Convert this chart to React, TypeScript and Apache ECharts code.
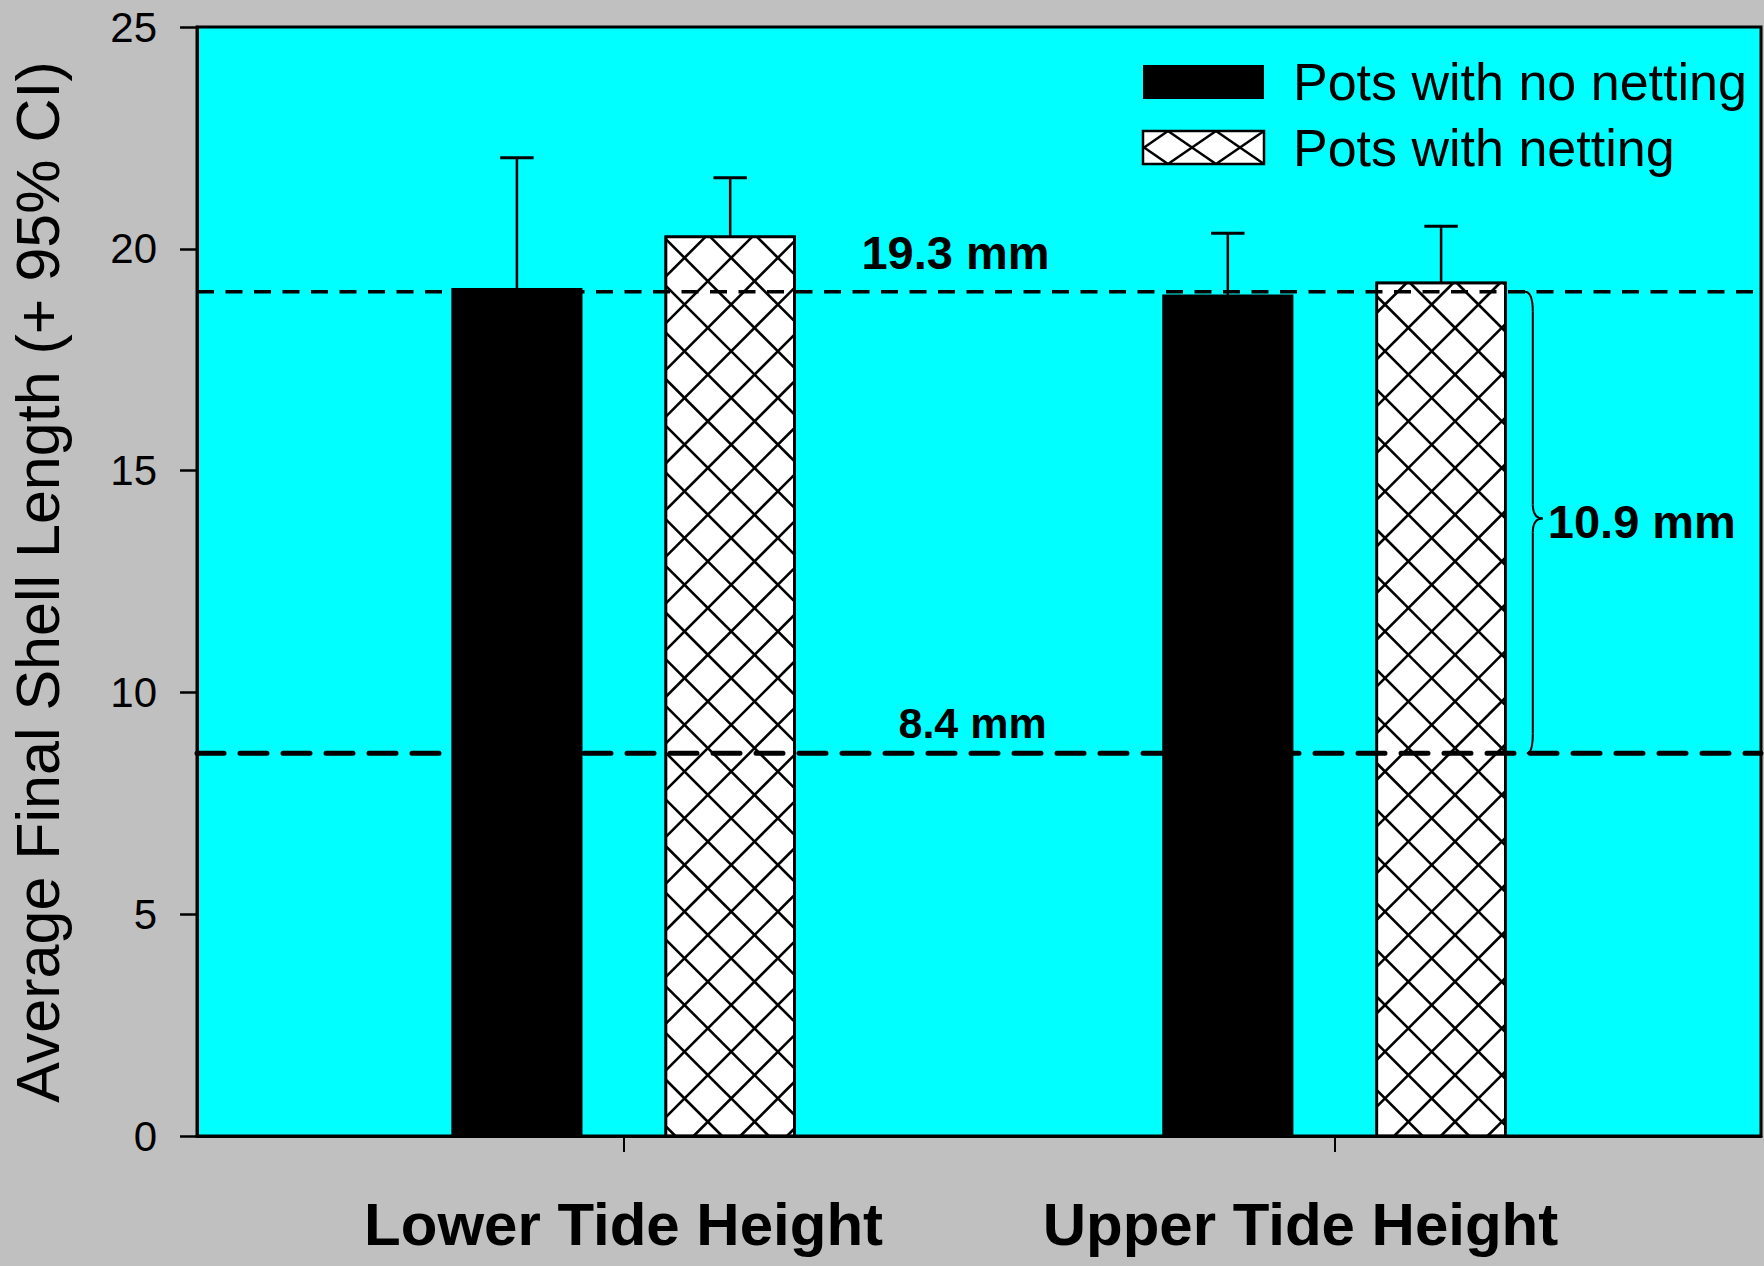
import React, { useEffect, useRef } from 'react';
import * as echarts from 'echarts';

// ---------- data ----------
const categories = ['Lower Tide Height', 'Upper Tide Height'];
const seriesNames = ['Pots with no netting', 'Pots with netting'];
const noNettingMean = [19.09, 18.94];
const noNettingCI = [22.05, 20.35];
const nettingMean = [20.27, 19.23];
const nettingCI = [21.6, 20.51];
const refLineValues = [19.03, 8.63];
const refLabels = ['19.3 mm', '8.4 mm'];
const diffLabel = '10.9 mm';
const yTitle = 'Average Final Shell Length (+ 95% CI)';

// ---------- layout constants ----------
const X_MIN = 0.4;
const X_MAX = 2.6;
const Y_MIN = 0;
const Y_MAX = 25;
const Y_INTERVAL = 5;
const BAR_OFFSET = 0.15;
const BAR_W = 0.181;
const CAP_W = 0.047;
const FONT = 'Arial, "Liberation Sans", Helvetica, sans-serif';

type Seg = [number, number, number, number];

// lines x = a + m*(y - ay), a = ax + k*spacing, clipped to rect
function hatchSegments(x0: number, y0: number, x1: number, y1: number, ax: number, ay: number, spacing: number, m: number): Seg[] {
  const segs: Seg[] = [];
  const e1 = m * (y0 - ay);
  const e2 = m * (y1 - ay);
  const kMin = Math.floor((x0 - ax - Math.max(e1, e2)) / spacing) - 1;
  const kMax = Math.ceil((x1 - ax - Math.min(e1, e2)) / spacing) + 1;
  for (let k = kMin; k <= kMax; k++) {
    const a = ax + k * spacing;
    const ya = ay + (x0 - a) / m;
    const yb = ay + (x1 - a) / m;
    const lo = Math.max(y0, Math.min(ya, yb));
    const hi = Math.min(y1, Math.max(ya, yb));
    if (hi - lo > 0.5) segs.push([a + m * (lo - ay), lo, a + m * (hi - ay), hi]);
  }
  return segs;
}

function segEls(segs: Seg[], lw: number, z?: number) {
  return segs.map((s) => ({
    type: 'line',
    z,
    shape: { x1: s[0], y1: s[1], x2: s[2], y2: s[3] },
    style: { stroke: '#000', lineWidth: lw },
  }));
}

function makeBarRender(offset: number, hatched: boolean) {
  return (_params: any, api: any) => {
    const xv = api.value(0) + offset;
    const mean = api.value(1);
    const ci = api.value(2);
    const top = api.coord([xv, mean]);
    const base = api.coord([xv, 0]);
    const ciPt = api.coord([xv, ci]);
    const w = api.size([BAR_W, 0])[0];
    const capW = api.size([CAP_W, 0])[0];
    const x0 = top[0] - w / 2;
    const x1 = top[0] + w / 2;
    const y0 = top[1];
    const y1 = base[1];
    const children: any[] = [];
    children.push({
      type: 'line',
      shape: { x1: top[0], y1: y0, x2: top[0], y2: ciPt[1] },
      style: { stroke: '#000', lineWidth: 2.5 },
    });
    children.push({
      type: 'line',
      shape: { x1: top[0] - capW / 2, y1: ciPt[1], x2: top[0] + capW / 2, y2: ciPt[1] },
      style: { stroke: '#000', lineWidth: 3 },
    });
    children.push({
      type: 'rect',
      shape: { x: x0, y: y0, width: w, height: y1 - y0 },
      style: { fill: hatched ? '#ffffff' : '#000000', stroke: '#000', lineWidth: 2.5 },
    });
    if (hatched) {
      const ax = 1385;
      const ay = 1051.7;
      const sp = 46.7;
      children.push(...segEls(hatchSegments(x0, y0, x1, y1, ax, ay, sp, 1), 2.6));
      children.push(...segEls(hatchSegments(x0, y0, x1, y1, ax, ay, sp, -1), 2.6));
      children.push({
        type: 'rect',
        shape: { x: x0, y: y0, width: w, height: y1 - y0 },
        style: { fill: 'none', stroke: '#000', lineWidth: 2.8 },
      });
    }
    return { type: 'group', children };
  };
}

function textStyle(text: string, x: number, y: number, font: string, align: string, vAlign: string) {
  return {
    text,
    x,
    y,
    font,
    fill: '#000',
    textFill: '#000',
    align,
    textAlign: align,
    verticalAlign: vAlign,
    textVerticalAlign: vAlign,
  };
}

function annotationRender(_params: any, api: any) {
  const xc = api.value(0);
  const upper = api.value(1);
  const lower = api.value(2);
  const pU = api.coord([xc, upper]);
  const pL = api.coord([xc, lower]);
  const stemX = api.coord([xc + 0.279, upper])[0];
  const tipX = stemX + 10;
  const yT = pU[1];
  const yB = pL[1];
  const yM = (yT + yB) / 2 - 4;
  const st = { stroke: '#000', lineWidth: 2, fill: 'none' };
  const children: any[] = [
    { type: 'bezierCurve', shape: { x1: stemX - 8, y1: yT, x2: stemX, y2: yT + 20, cpx1: stemX, cpy1: yT }, style: st },
    { type: 'line', shape: { x1: stemX, y1: yT + 20, x2: stemX, y2: yM - 14 }, style: st },
    { type: 'bezierCurve', shape: { x1: stemX, y1: yM - 14, x2: tipX, y2: yM, cpx1: stemX, cpy1: yM }, style: st },
    { type: 'bezierCurve', shape: { x1: tipX, y1: yM, x2: stemX, y2: yM + 14, cpx1: stemX, cpy1: yM }, style: st },
    { type: 'line', shape: { x1: stemX, y1: yM + 14, x2: stemX, y2: yB - 20 }, style: st },
    { type: 'bezierCurve', shape: { x1: stemX, y1: yB - 20, x2: stemX - 6, y2: yB, cpx1: stemX, cpy1: yB }, style: st },
  ];
  const l1 = api.coord([1.467, upper]);
  const l2 = api.coord([1.491, lower]);
  children.push({ type: 'text', style: textStyle(refLabels[0], l1[0], l1[1] - 39, `bold 47px ${FONT}`, 'center', 'middle') });
  children.push({ type: 'text', style: textStyle(refLabels[1], l2[0], l2[1] - 30, `bold 43px ${FONT}`, 'center', 'middle') });
  children.push({ type: 'text', style: textStyle(diffLabel, stemX + 15, yM + 3, `bold 47px ${FONT}`, 'left', 'middle') });
  return { type: 'group', children };
}

function buildLegend() {
  const els: any[] = [];
  els.push({ type: 'rect', z: 100, shape: { x: 1143, y: 65, width: 121, height: 34 }, style: { fill: '#000' } });
  els.push({ type: 'rect', z: 100, shape: { x: 1143, y: 131, width: 121, height: 33 }, style: { fill: '#fff' } });
  const bx0 = 1143, by0 = 131, bx1 = 1264, by1 = 164;
  const m = 48 / 33;
  els.push(...segEls(hatchSegments(bx0, by0, bx1, by1, 1168, 131, 48, m), 2.5, 101));
  els.push(...segEls(hatchSegments(bx0, by0, bx1, by1, 1168, 131, 48, -m), 2.5, 101));
  els.push({ type: 'rect', z: 102, shape: { x: 1143, y: 131, width: 121, height: 33 }, style: { fill: 'none', stroke: '#000', lineWidth: 2.5 } });
  els.push({ type: 'text', z: 100, x: 0, y: 0, style: textStyle(seriesNames[0], 1293, 82, `52px ${FONT}`, 'left', 'middle') });
  els.push({ type: 'text', z: 100, x: 0, y: 0, style: textStyle(seriesNames[1], 1293, 148, `52px ${FONT}`, 'left', 'middle') });
  els.push({
    type: 'text',
    z: 100,
    x: 38,
    y: 582,
    rotation: Math.PI / 2,
    style: textStyle(yTitle, 0, 0, `61px ${FONT}`, 'center', 'middle'),
  });
  return els;
}

export default function App() {
  const ref = useRef<HTMLDivElement>(null);
  useEffect(() => {
    document.body.style.margin = '0';
    document.body.style.overflow = 'hidden';
    const chart = echarts.init(ref.current!, undefined, { renderer: 'svg' });
    const option: any = {
      animation: false,
      backgroundColor: '#C0C0C0',
      textStyle: { fontFamily: FONT },
      grid: {
        left: 197,
        right: 3,
        top: 27,
        bottom: 130,
        show: true,
        backgroundColor: '#00FFFF',
        borderColor: '#000',
        borderWidth: 3,
      },
      xAxis: {
        type: 'value',
        min: X_MIN,
        max: X_MAX,
        splitLine: { show: false },
        axisLine: { show: true, lineStyle: { color: '#000', width: 3 } },
        axisTick: { show: true, customValues: [1, 2], length: 16, lineStyle: { color: '#000', width: 2 } },
        axisLabel: {
          customValues: [1, 2],
          margin: 58,
          formatter: (v: number) => {
            const i = Math.round(v) - 1;
            return i === 0 ? `{a|${categories[0]}}` : `{b|${categories[1]}}`;
          },
          rich: {
            a: { fontSize: 60, fontWeight: 'bold', fontFamily: FONT, color: '#000' },
            b: { fontSize: 60, fontWeight: 'bold', fontFamily: FONT, color: '#000', padding: [0, 68, 0, 0] },
          },
        },
      },
      yAxis: {
        type: 'value',
        min: Y_MIN,
        max: Y_MAX,
        interval: Y_INTERVAL,
        splitLine: { show: false },
        axisLine: { show: true, lineStyle: { color: '#000', width: 3 } },
        axisTick: { show: true, length: 17, lineStyle: { color: '#000', width: 2.5 } },
        axisLabel: { fontSize: 42, color: '#000', margin: 40, fontFamily: FONT },
      },
      series: [
        {
          type: 'custom',
          name: seriesNames[0],
          renderItem: makeBarRender(-BAR_OFFSET, false),
          encode: { x: 0, y: [1, 2] },
          data: categories.map((_c, i) => [i + 1, noNettingMean[i], noNettingCI[i]]),
          silent: true,
          z: 2,
        },
        {
          type: 'custom',
          name: seriesNames[1],
          renderItem: makeBarRender(BAR_OFFSET, true),
          encode: { x: 0, y: [1, 2] },
          data: categories.map((_c, i) => [i + 1, nettingMean[i], nettingCI[i]]),
          silent: true,
          z: 2,
        },
        {
          type: 'line',
          name: 'upper reference',
          data: [[X_MIN, refLineValues[0]], [X_MAX, refLineValues[0]]],
          symbol: 'none',
          silent: true,
          z: 3,
          lineStyle: { color: '#000', width: 3.5, type: [17, 11.5] },
        },
        {
          type: 'line',
          name: 'lower reference',
          data: [[X_MIN, refLineValues[1]], [X_MAX, refLineValues[1]]],
          symbol: 'none',
          silent: true,
          z: 3,
          lineStyle: { color: '#000', width: 5, type: [27, 16], cap: 'round' },
        },
        {
          type: 'custom',
          name: 'annotations',
          renderItem: annotationRender,
          encode: { x: 0, y: [1, 2] },
          data: [[categories.length, refLineValues[0], refLineValues[1]]],
          silent: true,
          z: 4,
        },
      ],
      graphic: buildLegend(),
    };
    chart.setOption(option);
    return () => chart.dispose();
  }, []);
  return <div ref={ref} style={{ position: 'absolute', left: 0, top: 0, width: 1764, height: 1266 }} />;
}
